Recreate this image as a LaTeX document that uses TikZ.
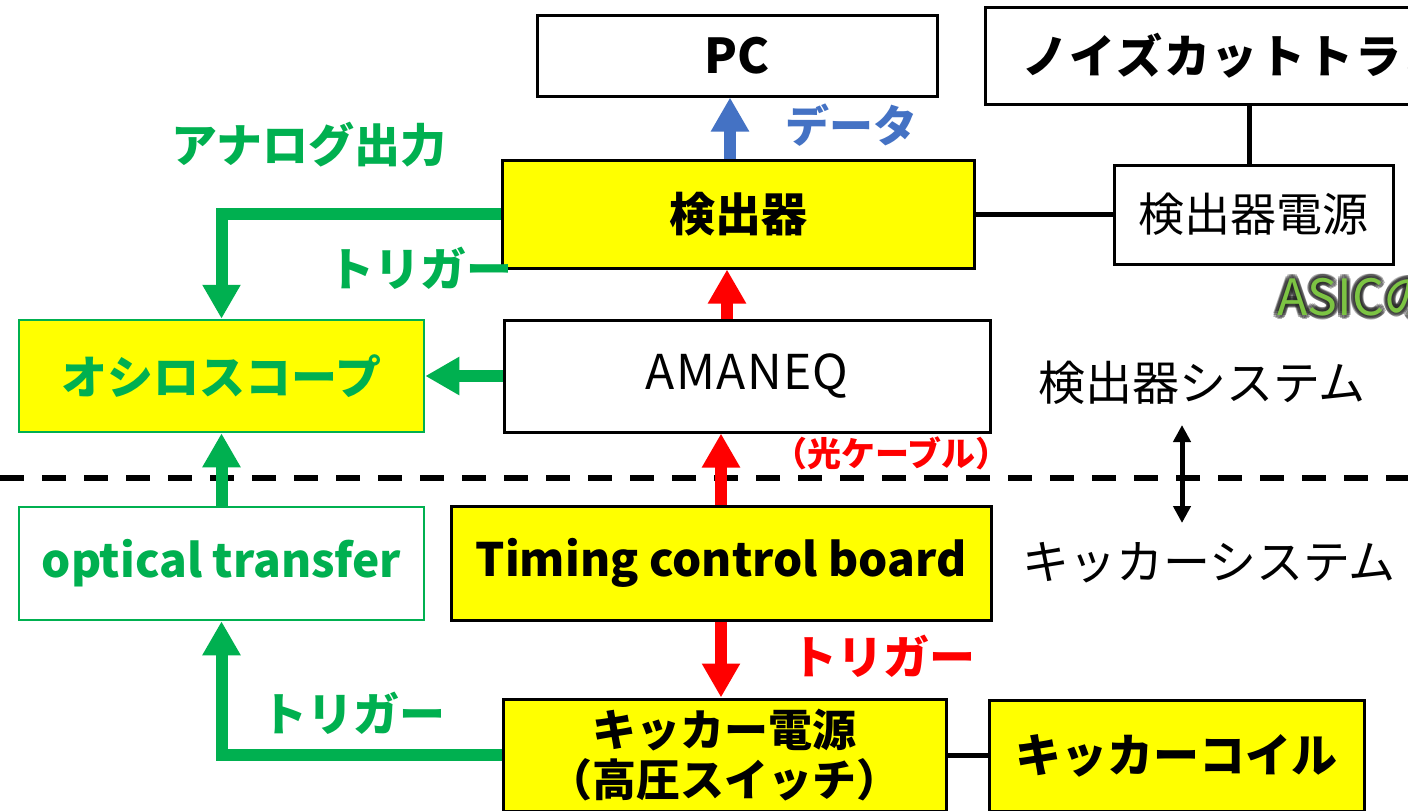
\documentclass[tikz,border=0pt]{standalone}
\usepackage{fontspec}
\setmainfont{Noto Sans CJK JP}
\usetikzlibrary{arrows.meta}
\definecolor{cgreen}{HTML}{00B050}
\definecolor{cblue}{HTML}{4472C4}
\definecolor{cred}{HTML}{FF0000}
\definecolor{cyel}{HTML}{FFFF00}
\definecolor{casic}{HTML}{7CC443}
\definecolor{cglow}{HTML}{222222}
\tikzset{
  bx/.style={draw=black, line width=3pt, inner sep=0pt, font=\fontsize{46}{50}\selectfont},
  ybx/.style={bx, fill=cyel},
  gbx/.style={draw=cgreen, line width=2.5pt, inner sep=0pt, font=\fontsize{46}{50}\selectfont\bfseries, text=cgreen},
  lbl/.style={inner sep=0pt, font=\fontsize{46}{50}\selectfont\bfseries},
  rlbl/.style={inner sep=0pt, font=\fontsize{47}{50}\selectfont},
  fat/.style={line width=12pt, -{Triangle[width=36pt,length=34pt]}},
  ln/.style={line width=5pt},
}
\begin{document}
\begin{tikzpicture}[x=1pt,y=-1pt]
\useasboundingbox (0,0) rectangle (1408,811);
\clip (0,0) rectangle (1408,811);
\fill[white] (0,0) rectangle (1408,811);

% boxes
\node[bx, minimum width=400pt, minimum height=81pt, font=\fontsize{48}{50}\selectfont\bfseries] (pc) at (737,55.5) {PC};
\node[bx, minimum height=97pt, inner xsep=37pt, text width=480pt, align=left, font=\fontsize{46}{50}\selectfont\bfseries\addfontfeatures{LetterSpace=4}] (noise) at (1262,55.5) {ノイズカットトランス};
\node[bx, minimum width=279pt, minimum height=99pt] (psu) at (1253.5,214.5) {検出器電源};
\node[ybx, minimum width=472pt, minimum height=108pt, font=\fontsize{46}{50}\selectfont\bfseries] (det) at (738,214) {検出器};
\node[gbx, fill=cyel, minimum width=405pt, minimum height=112pt] (osc) at (221.5,376) {オシロスコープ};
\node[bx, minimum width=486pt, minimum height=112pt, font=\fontsize{48}{50}\selectfont\addfontfeatures{LetterSpace=3}] (amaneq) at (747,376) {AMANEQ};
\node[gbx, minimum width=405pt, minimum height=113pt] (opt) at (221.5,563.5) {optical transfer};
\node[ybx, minimum width=540pt, minimum height=114pt, font=\fontsize{46}{50}\selectfont\bfseries] (tcb) at (721,563) {Timing control board};
\node[ybx, minimum width=443pt, minimum height=112pt, align=center, font=\fontsize{44}{50}\selectfont\bfseries] (kps) at (724.5,755) {キッカー電源\\（高圧スイッチ）};
\node[ybx, minimum width=375pt, minimum height=111pt, font=\fontsize{46}{50}\selectfont\bfseries] (coil) at (1176.5,755.5) {キッカーコイル};

% dashed separator
\coordinate (dl) at (0,478);
\coordinate (dr) at (1408,478);
\draw[line width=6pt, dash pattern=on 24pt off 18pt] (dl) -- (dr);

% connectors
\draw[fat, cblue] ([xshift=-8pt]det.north) -- ([xshift=-8pt]det.north |- pc.south);
\draw[ln] ([xshift=-4pt]psu.north) -- ([xshift=-4pt]psu.north |- noise.south);
\draw[ln] (det.east) -- (det.east -| psu.west);
\draw[fat, cgreen, line join=miter] (det.west) -- (osc.north |- det.west) -- (osc.north);
\draw[fat, cgreen] (amaneq.west) -- (osc.east);
\draw[fat, cred] ([xshift=-20pt]amaneq.north) -- ([xshift=-20pt]amaneq.north |- det.south);
\draw[fat, cred] (tcb.north) -- (tcb.north |- amaneq.south);
\draw[fat, cgreen] (opt.north) -- (osc.south);
\draw[fat, cred] (tcb.south) -- (tcb.south |- kps.north);
\draw[fat, cgreen, line join=miter] (kps.west) -- (opt.south |- kps.west) -- (opt.south);
\draw[ln] (kps.east) -- (kps.east -| coil.west);

% system double arrow
\coordinate (sa) at (1182,425);
\coordinate (sb) at (1182,523);
\draw[line width=5pt, {Triangle[width=17pt,length=17pt]}-{Triangle[width=17pt,length=17pt]}] (sa) -- (sb);

% labels
\node[lbl, text=cblue, font=\fontsize{44}{50}\selectfont\bfseries] (ldata) at (851,125) {データ};
\node[lbl, text=cgreen] (lanalog) at (309,145) {アナログ出力};
\node[lbl, text=cgreen] (ltrig1) at (420,268) {トリガー};
\node[lbl, text=cred, font=\fontsize{34}{40}\selectfont\bfseries] (lcable) at (891,453) {（光ケーブル）};
\node[lbl, text=cred] (ltrig2) at (883,656) {トリガー};
\node[lbl, text=cgreen] (ltrig3) at (353,713) {トリガー};
\node[rlbl] (ldsys) at (1202,383) {検出器システム};
\node[rlbl] (lksys) at (1209,563) {キッカーシステム};

% ASIC label with glow
\foreach \a in {0,30,...,330}{
  \node[inner sep=0pt, anchor=base west, text=cglow, opacity=0.35, font=\fontsize{50}{54}\selectfont] at ([shift={(\a:4pt)}]1277,315) {ASICの};
}
\node[inner sep=0pt, anchor=base west, text=casic, font=\fontsize{50}{54}\selectfont] (lasic) at (1277,315) {ASICの};
\end{tikzpicture}
\end{document}
